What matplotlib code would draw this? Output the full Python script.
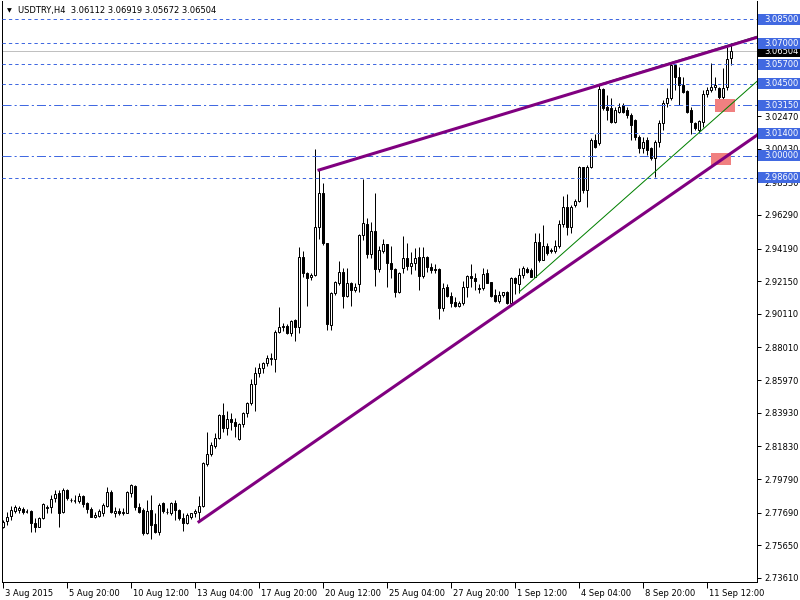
import numpy as np
import matplotlib
matplotlib.use("Agg")
import matplotlib.pyplot as plt
from matplotlib.patches import Rectangle
from matplotlib.transforms import blended_transform_factory, ScaledTranslation

plt.rcParams['font.family'] = ['DejaVu Sans']
plt.rcParams['lines.scale_dashes'] = False

# USDTRY H4 candles (open, high, low, close)
opens = [
    2.7678, 2.7719, 2.7748, 2.7782, 2.7786, 2.7792, 2.7777, 2.7782, 2.7707, 2.7682,
    2.7734, 2.7796, 2.7807, 2.7859, 2.7890, 2.7775, 2.7911, 2.7850, 2.7846, 2.7844,
    2.7873, 2.7828, 2.7790, 2.7740, 2.7748, 2.7769, 2.7811, 2.7900, 2.7765, 2.7782,
    2.7765, 2.7769, 2.7894, 2.7936, 2.7807, 2.7786, 2.7644, 2.7786, 2.7698, 2.7651,
    2.7828, 2.7775, 2.7765, 2.7832, 2.7786, 2.7734, 2.7707, 2.7744, 2.7765, 2.7775,
    2.7813, 2.8073, 2.8136, 2.8186, 2.8234, 2.8377, 2.8300, 2.8352, 2.8338, 2.8229,
    2.8321, 2.8390, 2.8452, 2.8571, 2.8640, 2.8671, 2.8702, 2.8727, 2.8727, 2.8900,
    2.8931, 2.8935, 2.8894, 2.8973, 2.8927, 2.9368, 2.9264, 2.9239, 2.9254, 2.9552,
    2.9764, 2.9452, 2.8941, 2.9144, 2.9202, 2.9271, 2.9125, 2.9202, 2.9160, 2.9196,
    2.9502, 2.9572, 2.9383, 2.9529, 2.9289, 2.9406, 2.9445, 2.9327, 2.9289, 2.9150,
    2.9296, 2.9358, 2.9310, 2.9327, 2.9364, 2.9250, 2.9364, 2.9302, 2.9291, 2.9291,
    2.9046, 2.9181, 2.9125, 2.9083, 2.9062, 2.9077, 2.9177, 2.9248, 2.9237, 2.9175,
    2.9171, 2.9268, 2.9208, 2.9129, 2.9094, 2.9129, 2.9150, 2.9077, 2.9233, 2.9198,
    2.9254, 2.9291, 2.9285, 2.9244, 2.9462, 2.9347, 2.9435, 2.9410, 2.9406, 2.9435,
    2.9572, 2.9681, 2.9556, 2.9691, 2.9718, 2.9927, 2.9785, 2.9927, 3.0097, 3.0076,
    3.0414, 3.0305, 3.0295, 3.0212, 3.0274, 3.0316, 3.0285, 3.0253, 3.0222, 3.0118,
    3.0045, 3.0097, 3.0045, 2.9983, 3.0087, 3.0201, 3.0326, 3.0357, 3.0566, 3.0493,
    3.0441, 3.0405, 3.0285, 3.0206, 3.0160, 3.0212, 3.0385, 3.0410, 3.0430, 3.0420,
    3.0364, 3.0430, 3.06112,
]
highs = [
    2.7723, 2.7775, 2.7811, 2.7819, 2.7811, 2.7807, 2.7790, 2.7786, 2.7734, 2.7744,
    2.7828, 2.7817, 2.7880, 2.7911, 2.7911, 2.7921, 2.7917, 2.7859, 2.7880, 2.7894,
    2.7880, 2.7838, 2.7807, 2.7775, 2.7790, 2.7828, 2.7932, 2.7911, 2.7807, 2.7796,
    2.7796, 2.7907, 2.7948, 2.7942, 2.7828, 2.7796, 2.7848, 2.7880, 2.7765, 2.7828,
    2.7838, 2.7796, 2.7838, 2.7848, 2.7790, 2.7765, 2.7769, 2.7769, 2.7790, 2.7873,
    2.8088, 2.8271, 2.8213, 2.8265, 2.8386, 2.8452, 2.8406, 2.8390, 2.8358, 2.8331,
    2.8400, 2.8463, 2.8602, 2.8681, 2.8706, 2.8712, 2.8754, 2.8765, 2.8910, 2.9052,
    2.8956, 2.8948, 2.8973, 2.8976, 2.9427, 2.9406, 2.9275, 2.9264, 3.0039, 2.9914,
    2.9826, 2.9452, 2.9150, 2.9218, 2.9343, 2.9300, 2.9296, 2.9212, 2.9202, 2.9508,
    2.9851, 2.9608, 2.9587, 2.9768, 2.9435, 2.9477, 2.9450, 2.9435, 2.9296, 2.9275,
    2.9497, 2.9456, 2.9400, 2.9425, 2.9427, 2.9427, 2.9375, 2.9331, 2.9323, 2.9296,
    2.9206, 2.9198, 2.9150, 2.9114, 2.9091, 2.9218, 2.9254, 2.9320, 2.9268, 2.9198,
    2.9296, 2.9289, 2.9212, 2.9164, 2.9156, 2.9150, 2.9154, 2.9239, 2.9243, 2.9296,
    2.9310, 2.9306, 2.9295, 2.9518, 2.9514, 2.9566, 2.9452, 2.9420, 2.9473, 2.9597,
    2.9747, 2.9760, 2.9691, 2.9727, 2.9935, 2.9931, 2.9941, 3.0108, 3.0135, 3.0441,
    3.0420, 3.0378, 3.0357, 3.0305, 3.0326, 3.0330, 3.0305, 3.0268, 3.0226, 3.0128,
    3.0118, 3.0118, 3.0056, 3.0097, 3.0222, 3.0347, 3.0420, 3.0572, 3.0566, 3.0555,
    3.0493, 3.0410, 3.0305, 3.0212, 3.0222, 3.0410, 3.0430, 3.0580, 3.0493, 3.0430,
    3.0545, 3.0680, 3.06919,
]
lows = [
    2.7671, 2.7692, 2.7723, 2.7765, 2.7769, 2.7761, 2.7765, 2.7651, 2.7651, 2.7678,
    2.7728, 2.7765, 2.7765, 2.7838, 2.7682, 2.7765, 2.7848, 2.7838, 2.7828, 2.7828,
    2.7807, 2.7765, 2.7740, 2.7734, 2.7744, 2.7748, 2.7807, 2.7765, 2.7744, 2.7755,
    2.7755, 2.7765, 2.7869, 2.7786, 2.7765, 2.7630, 2.7636, 2.7603, 2.7640, 2.7630,
    2.7769, 2.7761, 2.7755, 2.7723, 2.7723, 2.7657, 2.7698, 2.7728, 2.7744, 2.7713,
    2.7807, 2.8061, 2.8123, 2.8171, 2.8227, 2.8275, 2.8254, 2.8286, 2.8244, 2.8223,
    2.8302, 2.8365, 2.8442, 2.8406, 2.8615, 2.8640, 2.8685, 2.8692, 2.8646, 2.8889,
    2.8906, 2.8883, 2.8873, 2.8844, 2.8894, 2.9239, 2.9062, 2.9223, 2.9248, 2.9481,
    2.9441, 2.8910, 2.8910, 2.9129, 2.9191, 2.9046, 2.9119, 2.9062, 2.9150, 2.9150,
    2.9472, 2.9358, 2.9358, 2.9185, 2.9275, 2.9389, 2.9177, 2.9233, 2.9114, 2.9140,
    2.9264, 2.9285, 2.9258, 2.9285, 2.9160, 2.9233, 2.9275, 2.9264, 2.9268, 2.8977,
    2.9031, 2.9119, 2.9056, 2.9056, 2.9052, 2.9066, 2.9119, 2.9181, 2.9160, 2.9144,
    2.9160, 2.9202, 2.9114, 2.9087, 2.9077, 2.9119, 2.9073, 2.9073, 2.9133, 2.9144,
    2.9233, 2.9264, 2.9239, 2.9239, 2.9337, 2.9345, 2.9379, 2.9389, 2.9389, 2.9425,
    2.9556, 2.9504, 2.9514, 2.9681, 2.9708, 2.9764, 2.9681, 2.9920, 3.0045, 3.0066,
    3.0285, 3.0222, 3.0201, 3.0201, 3.0264, 3.0264, 3.0233, 3.0097, 3.0097, 3.0014,
    3.0014, 3.0004, 2.9972, 2.9868, 3.0056, 3.0160, 3.0305, 3.0347, 3.0410, 3.0316,
    3.0389, 3.0264, 3.0135, 3.0160, 3.0149, 3.0176, 3.0368, 3.0399, 3.0410, 3.0343,
    3.0351, 3.0410, 3.05672,
]
closes = [
    2.7713, 2.7744, 2.7786, 2.7807, 2.7796, 2.7771, 2.7775, 2.7703, 2.7682, 2.7734,
    2.7823, 2.7807, 2.7853, 2.7886, 2.7769, 2.7911, 2.7859, 2.7846, 2.7844, 2.7873,
    2.7823, 2.7790, 2.7740, 2.7755, 2.7782, 2.7817, 2.7900, 2.7775, 2.7782, 2.7769,
    2.7775, 2.7900, 2.7942, 2.7803, 2.7775, 2.7644, 2.7782, 2.7692, 2.7651, 2.7817,
    2.7782, 2.7771, 2.7828, 2.7786, 2.7734, 2.7703, 2.7755, 2.7765, 2.7780, 2.7813,
    2.8081, 2.8136, 2.8192, 2.8234, 2.8377, 2.8300, 2.8352, 2.8338, 2.8311, 2.8323,
    2.8390, 2.8452, 2.8571, 2.8644, 2.8671, 2.8702, 2.8733, 2.8733, 2.8900, 2.8931,
    2.8937, 2.8894, 2.8969, 2.8931, 2.9364, 2.9264, 2.9237, 2.9254, 2.9552, 2.9764,
    2.9452, 2.8946, 2.9144, 2.9208, 2.9271, 2.9125, 2.9202, 2.9160, 2.9177, 2.9502,
    2.9577, 2.9383, 2.9529, 2.9289, 2.9410, 2.9445, 2.9327, 2.9289, 2.9150, 2.9268,
    2.9358, 2.9310, 2.9327, 2.9358, 2.9250, 2.9364, 2.9302, 2.9285, 2.9285, 2.9046,
    2.9171, 2.9125, 2.9077, 2.9062, 2.9077, 2.9181, 2.9248, 2.9233, 2.9218, 2.9164,
    2.9258, 2.9206, 2.9123, 2.9094, 2.9129, 2.9150, 2.9077, 2.9233, 2.9202, 2.9254,
    2.9300, 2.9275, 2.9244, 2.9462, 2.9347, 2.9435, 2.9393, 2.9404, 2.9435, 2.9572,
    2.9681, 2.9556, 2.9681, 2.9718, 2.9927, 2.9785, 2.9927, 3.0097, 3.0056, 3.0414,
    3.0295, 3.0285, 3.0212, 3.0285, 3.0305, 3.0274, 3.0253, 3.0191, 3.0118, 3.0045,
    3.0087, 3.0035, 2.9983, 3.0087, 3.0201, 3.0326, 3.0357, 3.0566, 3.0493, 3.0441,
    3.0399, 3.0274, 3.0212, 3.0170, 3.0216, 3.0385, 3.0410, 3.0430, 3.0441, 3.0364,
    3.0420, 3.0601, 3.06504,
]

title = "USDTRY,H4  3.06112 3.06919 3.05672 3.06504"
date_ticks = [0, 16, 32, 48, 64, 80, 96, 112, 128, 144, 160, 176]
date_labels = ["3 Aug 2015", "5 Aug 20:00", "10 Aug 12:00", "13 Aug 04:00",
               "17 Aug 20:00", "20 Aug 12:00", "25 Aug 04:00", "27 Aug 20:00",
               "1 Sep 12:00", "4 Sep 04:00", "8 Sep 20:00", "11 Sep 12:00"]
price_ticks = [2.73610, 2.75650, 2.77690, 2.79790, 2.81830, 2.83930, 2.85970,
               2.88010, 2.90110, 2.92150, 2.94190, 2.96290, 2.98330, 3.00430,
               3.02470, 3.04510, 3.06550, 3.08590]
price_labels = ["%.5f" % p for p in price_ticks]

levels = [3.08500, 3.07000, 3.05700, 3.04500, 3.03150, 3.01400, 3.00000, 2.98600]
level_dashdot = [False, False, False, False, True, False, True, False]
last_price = 3.06504

# trend lines: (bar, price) anchors
upper_line = ([79, 190], [2.99098, 3.07497])
lower_line = ([49, 190], [2.77127, 3.01532])
green_line = ([129.1, 190], [2.9149, 3.0497])
green_line2 = ([149, 190], [3.0444, 3.0756])
zones = [(178, 183, 3.0275, 3.0355), (177, 182, 2.9941, 3.0018)]

BLUE = '#4169E1'
PURPLE = '#800080'
PX = 0.72  # one pixel in points

fig = plt.figure(figsize=(8, 6), dpi=100)
ax = fig.add_axes([2 / 800, 18 / 600, 755 / 800, 581 / 600])
ax.set_xlim(-0.25, 188.5)
ax.set_ylim(2.73360, 3.09654)

# candles
for i in range(len(opens)):
    o, h, l, c = opens[i], highs[i], lows[i], closes[i]
    ax.vlines(i, l, h, color='black', lw=PX, zorder=2)
    lo, hi = min(o, c), max(o, c)
    if hi - lo < 0.0002:
        ax.hlines((o + c) / 2, i - 0.3, i + 0.3, color='black', lw=PX * 1.5, zorder=2.1)
    else:
        ax.add_patch(Rectangle((i - 0.25, lo), 0.5, hi - lo,
                               facecolor='white' if c > o else 'black',
                               edgecolor='black', lw=PX, zorder=2.1))

# horizontal levels
ax.axhline(last_price, color='#C0C0C0', lw=PX, zorder=1)
for lv, dd in zip(levels, level_dashdot):
    ln = ax.axhline(lv, color=BLUE, lw=PX, zorder=3)
    if dd:
        ln.set_dashes([6.5, 2.2, 1.5, 2.2])
    else:
        ln.set_dashes([2.4, 2.2])

# zones
for x0, x1, y0, y1 in zones:
    ax.add_patch(Rectangle((x0, y0), x1 - x0, y1 - y0, facecolor='#F08080',
                           edgecolor='none', zorder=4))

# trend lines
ax.plot(green_line2[0], green_line2[1], color='green', lw=PX, zorder=4.5)
ax.plot(green_line[0], green_line[1], color='green', lw=PX, zorder=5.5)
ax.plot(upper_line[0], upper_line[1], color=PURPLE, lw=2.2, zorder=5)
ax.plot(lower_line[0], lower_line[1], color=PURPLE, lw=2.2, zorder=5)

# axes look
for s in ['left', 'bottom', 'right']:
    ax.spines[s].set_linewidth(PX)
ax.spines['top'].set_visible(False)
ax.yaxis.tick_right()
ax.set_yticks(price_ticks)
ax.set_yticklabels(price_labels)
ax.set_xticks(date_ticks)
ax.set_xticklabels(date_labels, ha='left')
ax.tick_params(axis='y', length=3, width=PX, pad=2, labelsize=6)
ax.tick_params(axis='x', length=4, width=PX, pad=1, labelsize=6)
for lbl in ax.get_xticklabels():
    lbl.set_transform(lbl.get_transform() + ScaledTranslation(2 / 100, 0, fig.dpi_scale_trans))

# price labels on the right scale
bt = blended_transform_factory(fig.transFigure, ax.transData)
bh = 11 / 1600.8
ax.add_patch(Rectangle((758 / 800, last_price - bh / 2), 42 / 800, bh, transform=bt,
                       facecolor='black', edgecolor='none', clip_on=False, zorder=6))
ax.text(764 / 800, last_price, "%.5f" % last_price, transform=bt, color='white',
        fontsize=6, va='center', ha='left', clip_on=False, zorder=6.1)
for lv in levels:
    ax.add_patch(Rectangle((758 / 800, lv - bh / 2), 42 / 800, bh, transform=bt,
                           facecolor=BLUE, edgecolor='none', clip_on=False, zorder=6.2))
    ax.text(764 / 800, lv, "%.5f" % lv, transform=bt, color='white',
            fontsize=6, va='center', ha='left', clip_on=False, zorder=6.3)

# title
fig.text(9 / 800, 1 - 10.5 / 600, "\u25bc", fontsize=4.5, ha='center', va='center')
fig.text(18 / 800, 1 - 10.5 / 600, title, fontsize=6, ha='left', va='center')

fig.savefig('out.png', dpi=100)
